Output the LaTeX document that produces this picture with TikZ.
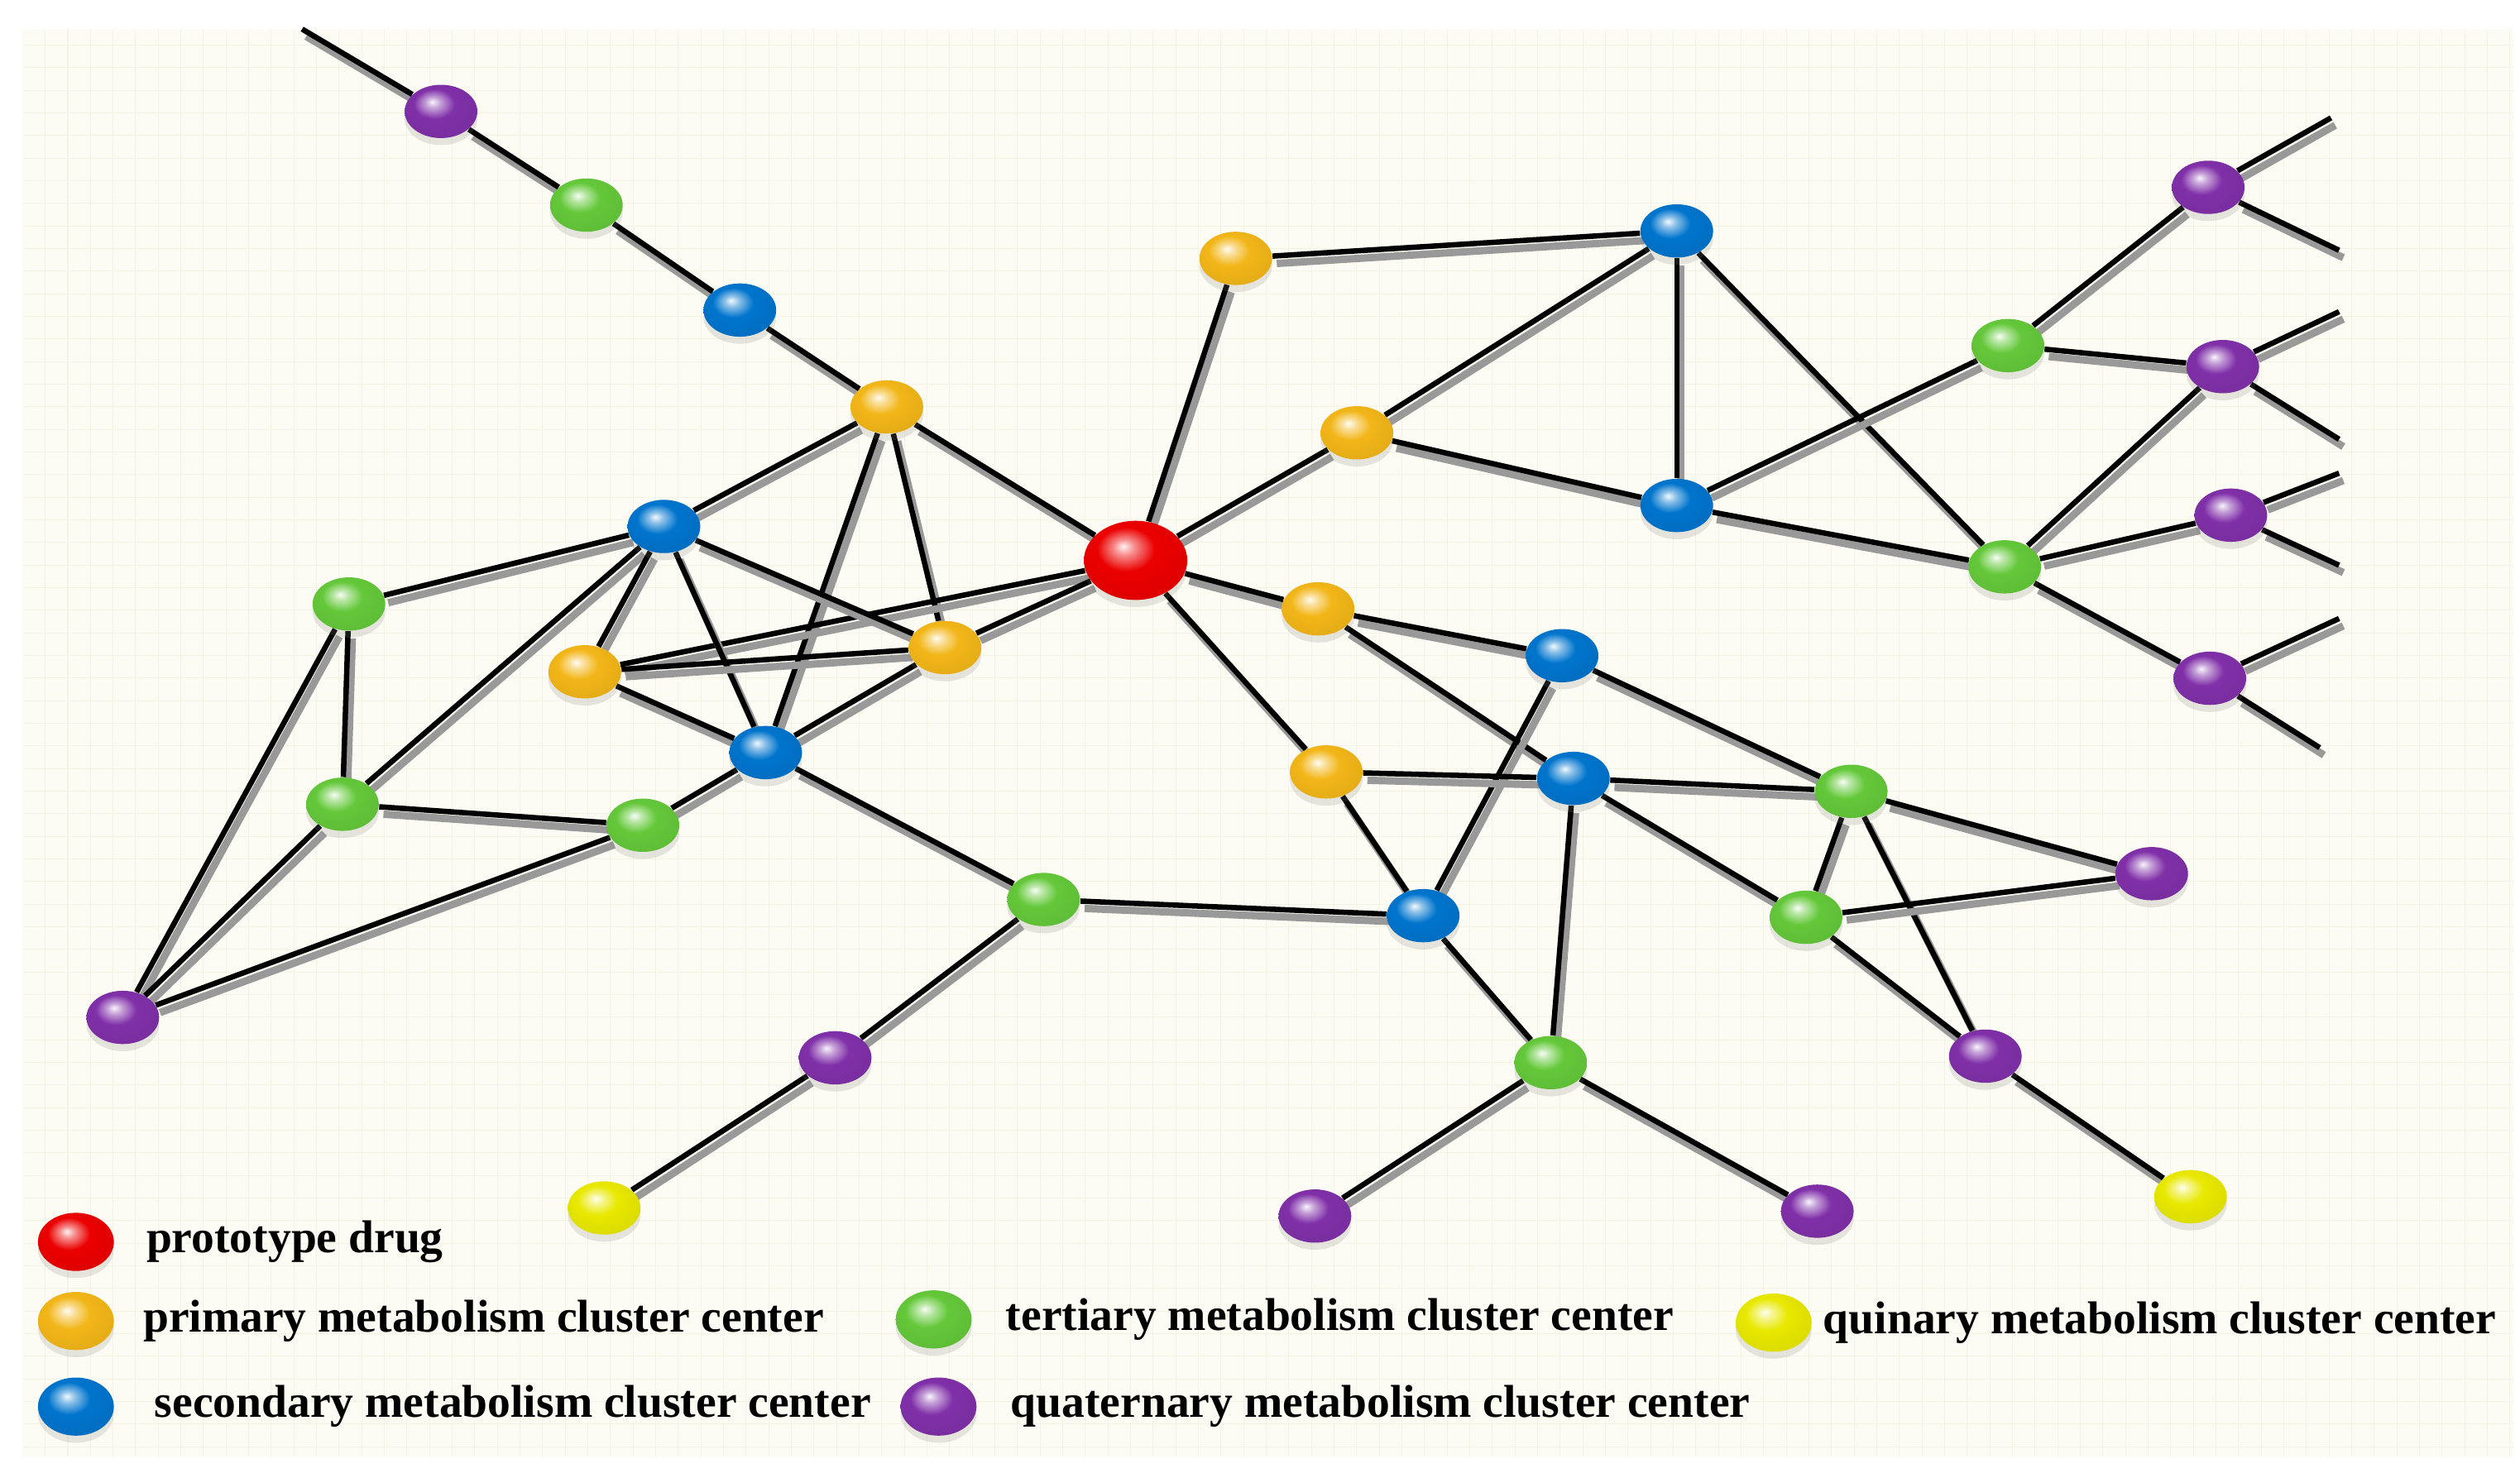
\documentclass[tikz,border=0pt]{standalone}
\usepackage{fontspec}
\setmainfont{Liberation Serif}
\usetikzlibrary{shapes.geometric,shadows,positioning,backgrounds}
\definecolor{bgcream}{RGB}{253,252,244}
\definecolor{gridcream}{RGB}{245,243,230}
\definecolor{protored}{RGB}{235,0,0}
\definecolor{primorange}{RGB}{242,182,24}
\definecolor{secblue}{RGB}{0,116,204}
\definecolor{tergreen}{RGB}{100,200,58}
\definecolor{quatpurple}{RGB}{128,48,168}
\definecolor{quinyellow}{RGB}{232,232,0}
\colorlet{glossc}{red}
\pgfdeclareradialshading[glossc]{glossy}{\pgfpoint{-6bp}{9bp}}{%
  color(0bp)=(glossc!5!white); color(5bp)=(glossc!45!white);
  color(14bp)=(glossc); color(38bp)=(glossc!92!black); color(62bp)=(glossc!62!black)}

\begin{document}
\begin{tikzpicture}[x=0.02cm,y=-0.02cm]
\tikzset{glossy color/.style={/utils/exec={\colorlet{glossc}{#1}},shading=glossy},
  metab/.style={ellipse,inner sep=0pt,minimum width=0.9cm,minimum height=0.66cm,
    drop shadow={opacity=0.2,shadow xshift=0pt,shadow yshift=-2.5pt}},
  proto/.style={metab,glossy color=protored,minimum width=1.28cm,minimum height=0.98cm},
  prim/.style={metab,glossy color=primorange},
  sec/.style={metab,glossy color=secblue},
  ter/.style={metab,glossy color=tergreen},
  quat/.style={metab,glossy color=quatpurple},
  quin/.style={metab,glossy color=quinyellow},
  legball/.style={minimum width=0.94cm,minimum height=0.72cm},
  legtext/.style={inner sep=0pt,font=\bfseries\fontsize{16.2}{18}\selectfont},
  link/.style={line width=1.9pt,black,
    preaction={draw=black!40,line width=2.6pt,transform canvas={shift={(1.5pt,-2.6pt)}}}}}
\useasboundingbox (0,0) rectangle (1560,915);
% prototype drug and primary centers
\node[proto](r) at (703,347){};
\node[prim](o1) at (765,160){};
\node[prim](o2) at (549,252){};
\node[prim](o3) at (840,268){};
\node[prim](o4) at (362,416){};
\node[prim](o5) at (585,401){};
\node[prim](o6) at (816,377){};
\node[prim](o7) at (821,478){};
% secondary
\node[sec](b1) at (1038,143){};
\node[sec](b2) at (458,192){};
\node[sec](b3) at (411,326){};
\node[sec](b4) at (1038,313){};
\node[sec](b5) at (474,466){};
\node[sec](b6) at (967,406){};
\node[sec](b7) at (974,482){};
\node[sec](b8) at (881,567){};
% tertiary
\node[ter](g1) at (363,127){};
\node[ter](g2) at (1243,214){};
\node[ter](g3) at (216,374){};
\node[ter](g4) at (1241,351){};
\node[ter](g5) at (212,498){};
\node[ter](g6) at (398,511){};
\node[ter](g7) at (646,557){};
\node[ter](g8) at (1146,490){};
\node[ter](g9) at (1118,568){};
\node[ter](g10) at (960,658){};
% quaternary
\node[quat](p1) at (273,69){};
\node[quat](p2) at (1367,116){};
\node[quat](p3) at (1376,227){};
\node[quat](p4) at (1381,319){};
\node[quat](p5) at (1368,420){};
\node[quat](p6) at (76,630){};
\node[quat](p7) at (517,655){};
\node[quat](p8) at (1332,541){};
\node[quat](p9) at (1229,654){};
\node[quat](p10) at (814,753){};
\node[quat](p11) at (1125,750){};
% quinary
\node[quin](y1) at (374,748){};
\node[quin](y2) at (1356,741){};
% loose ends
\coordinate (t0) at (187,18);
\coordinate (s2a) at (1443,73); \coordinate (s2b) at (1448,155);
\coordinate (s3a) at (1448,193); \coordinate (s3b) at (1448,272);
\coordinate (s4a) at (1448,293); \coordinate (s4b) at (1448,350);
\coordinate (s5a) at (1448,383); \coordinate (s5b) at (1436,463);
\begin{scope}[on background layer]
\fill[bgcream] (14,18) rectangle (1556,902);
\draw[gridcream,step=0.28cm,line width=0.3pt] (14,18) grid (1556,902);
\foreach \a/\b in {t0/p1,p1/g1,g1/b2,b2/o2,o2/r,o2/b3,o2/o5,o2/b5,
    r/o1,r/o3,r/o6,r/o7,r/o4,r/o5,b3/g3,b3/g5,b3/o4,b3/b5,b3/o5,
    o4/o5,o4/b5,o5/b5,b5/g6,b5/g7,g3/g5,g3/p6,g5/g6,g5/p6,g6/p6,
    g7/p7,g7/b8,p7/y1,o1/b1,o3/b1,o3/b4,b1/b4,b1/g4,b4/g2,b4/g4,
    g2/p2,g2/p3,g4/p3,g4/p4,g4/p5,o6/b6,o6/b7,b6/g8,b6/b8,o7/b7,o7/b8,
    b7/g8,b7/g9,b7/g10,b8/g10,g8/g9,g8/p8,g8/p9,g9/p8,g9/p9,
    g10/p10,g10/p11,p9/y2,p2/s2a,p2/s2b,p3/s3a,p3/s3b,p4/s4a,p4/s4b,p5/s5a,p5/s5b}
  \draw[link](\a) -- (\b);
\end{scope}
% legend
\node[proto,legball](k1) at (47,769){};
\node[legtext,right=0.39cm of k1](t1){prototype drug};
\node[prim,legball](k2) at (47,818){};
\node[legtext,right=0.35cm of k2](t2){primary metabolism cluster center};
\node[sec,legball](k3) at (47,871){};
\node[legtext,right=0.49cm of k3](t3){secondary metabolism cluster center};
\node[ter,legball](k4) at (578,817){};
\node[legtext,right=0.41cm of k4](t4){tertiary metabolism cluster center};
\node[quat,legball](k5) at (581,871){};
\node[legtext,right=0.41cm of k5](t5){quaternary metabolism cluster center};
\node[quin,legball](k6) at (1098,819){};
\node[legtext,right=0.13cm of k6](t6){quinary metabolism cluster center};
\end{tikzpicture}
\end{document}
